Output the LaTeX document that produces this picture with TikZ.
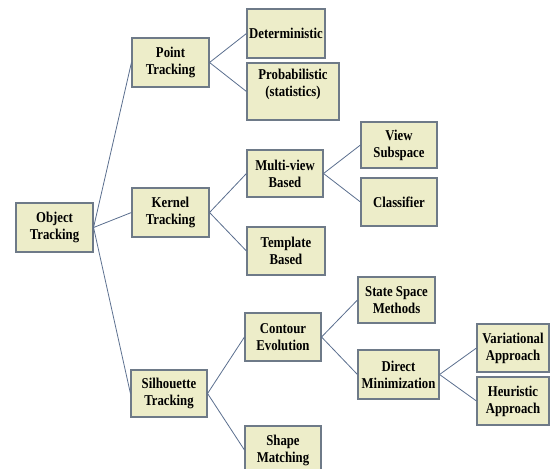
\documentclass[tikz,border=0pt]{standalone}
\usepackage{fontspec}
\setmainfont{Liberation Serif}[FakeStretch=0.85]
\definecolor{boxfill}{HTML}{EDEDC9}
\definecolor{boxedge}{HTML}{6E7A88}
\definecolor{linkcol}{HTML}{5A6E8E}
\begin{document}
\begin{tikzpicture}[x=1pt,y=-1pt,
  box/.style={draw=boxedge, line width=1.1pt, fill=boxfill, inner sep=0pt,
    align=center, font=\fontsize{15}{17}\selectfont\bfseries},
  link/.style={draw=linkcol, line width=0.8pt}]
\useasboundingbox (0,0) rectangle (550,469);
\begin{scope}
\clip (0,0) rectangle (550,469);
% level 0
\node[box, minimum width=77, minimum height=49] (obj) at (54.5,227.5) {Object\\Tracking};
% level 1
\node[box, minimum width=77, minimum height=49] (point) at (170.5,62.5) {Point\\Tracking};
\node[box, minimum width=77, minimum height=49] (kernel) at (170.5,212.5) {Kernel\\Tracking};
\node[box, minimum width=76, minimum height=47] (sil) at (169,393.5) {Silhouette\\Tracking};
% level 2
\node[box, minimum width=78, minimum height=49] (det) at (286,33.5) {Deterministic};
\node[box, minimum width=92, minimum height=57] (prob) at (293,91.5) {Probabilistic\\(statistics)\\\mbox{}};
\node[box, minimum width=76, minimum height=47] (multi) at (285,173.5) {Multi-view\\Based};
\node[box, minimum width=78, minimum height=48] (templ) at (286,251) {Template\\Based};
\node[box, minimum width=76, minimum height=48] (contour) at (283,337) {Contour\\Evolution};
\node[box, minimum width=76, minimum height=48] (shape) at (283,450) {Shape\\Matching};
% level 3
\node[box, minimum width=76, minimum height=46] (view) at (399,145) {View\\Subspace};
\node[box, minimum width=76, minimum height=48] (class) at (399,202) {Classifier};
\node[box, minimum width=77, minimum height=46] (state) at (396.5,300) {State Space\\Methods};
\node[box, minimum width=81, minimum height=49] (direct) at (398.5,374.5) {Direct\\Minimization};
% level 4
\node[box, minimum width=72, minimum height=48] (var) at (513,348) {Variational\\Approach};
\node[box, minimum width=72, minimum height=48] (heur) at (513,401) {Heuristic\\Approach};
% connectors
\draw[link] (obj.east) -- (point.west);
\draw[link] (obj.east) -- (kernel.west);
\draw[link] (obj.east) -- (sil.west);
\draw[link] (point.east) -- (det.west);
\draw[link] (point.east) -- (prob.west);
\draw[link] (kernel.east) -- (multi.west);
\draw[link] (kernel.east) -- (templ.west);
\draw[link] (multi.east) -- (view.west);
\draw[link] (multi.east) -- (class.west);
\draw[link] (sil.east) -- (contour.west);
\draw[link] (sil.east) -- (shape.west);
\draw[link] (contour.east) -- (state.west);
\draw[link] (contour.east) -- (direct.west);
\draw[link] (direct.east) -- (var.west);
\draw[link] (direct.east) -- (heur.west);
\end{scope}
\end{tikzpicture}
\end{document}
